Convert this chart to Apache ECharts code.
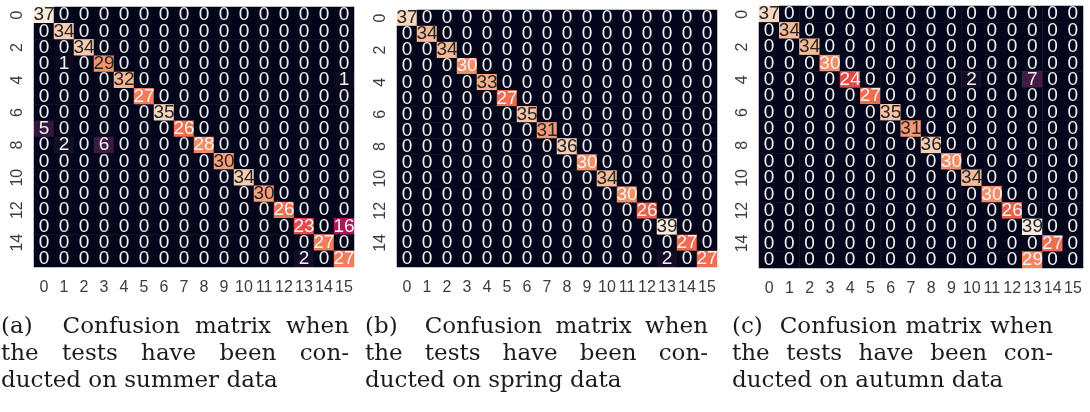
<!DOCTYPE html>
<html>
<head>
<meta charset="utf-8">
<script src="https://cdn.jsdelivr.net/npm/echarts@6/dist/echarts.min.js"></script>
<style>
  html, body { margin: 0; padding: 0; background: #ffffff; }
  #chart { width: 1090px; height: 412px; }
</style>
</head>
<body>
<div id="chart"></div>
<script>
// Class indices shown on both axes
const classLabels = ['0','1','2','3','4','5','6','7','8','9','10','11','12','13','14','15'];

// Confusion matrix, rows = true class, columns = predicted class (summer test set)
const summerMatrix = [
  [37, 0, 0, 0, 0, 0, 0, 0, 0, 0, 0, 0, 0, 0, 0, 0],
  [ 0,34, 0, 0, 0, 0, 0, 0, 0, 0, 0, 0, 0, 0, 0, 0],
  [ 0, 0,34, 0, 0, 0, 0, 0, 0, 0, 0, 0, 0, 0, 0, 0],
  [ 0, 1, 0,29, 0, 0, 0, 0, 0, 0, 0, 0, 0, 0, 0, 0],
  [ 0, 0, 0, 0,32, 0, 0, 0, 0, 0, 0, 0, 0, 0, 0, 1],
  [ 0, 0, 0, 0, 0,27, 0, 0, 0, 0, 0, 0, 0, 0, 0, 0],
  [ 0, 0, 0, 0, 0, 0,35, 0, 0, 0, 0, 0, 0, 0, 0, 0],
  [ 5, 0, 0, 0, 0, 0, 0,26, 0, 0, 0, 0, 0, 0, 0, 0],
  [ 0, 2, 0, 6, 0, 0, 0, 0,28, 0, 0, 0, 0, 0, 0, 0],
  [ 0, 0, 0, 0, 0, 0, 0, 0, 0,30, 0, 0, 0, 0, 0, 0],
  [ 0, 0, 0, 0, 0, 0, 0, 0, 0, 0,34, 0, 0, 0, 0, 0],
  [ 0, 0, 0, 0, 0, 0, 0, 0, 0, 0, 0,30, 0, 0, 0, 0],
  [ 0, 0, 0, 0, 0, 0, 0, 0, 0, 0, 0, 0,26, 0, 0, 0],
  [ 0, 0, 0, 0, 0, 0, 0, 0, 0, 0, 0, 0, 0,23, 0,16],
  [ 0, 0, 0, 0, 0, 0, 0, 0, 0, 0, 0, 0, 0, 0,27, 0],
  [ 0, 0, 0, 0, 0, 0, 0, 0, 0, 0, 0, 0, 0, 2, 0,27]
];

// Spring test set
const springMatrix = [
  [37, 0, 0, 0, 0, 0, 0, 0, 0, 0, 0, 0, 0, 0, 0, 0],
  [ 0,34, 0, 0, 0, 0, 0, 0, 0, 0, 0, 0, 0, 0, 0, 0],
  [ 0, 0,34, 0, 0, 0, 0, 0, 0, 0, 0, 0, 0, 0, 0, 0],
  [ 0, 0, 0,30, 0, 0, 0, 0, 0, 0, 0, 0, 0, 0, 0, 0],
  [ 0, 0, 0, 0,33, 0, 0, 0, 0, 0, 0, 0, 0, 0, 0, 0],
  [ 0, 0, 0, 0, 0,27, 0, 0, 0, 0, 0, 0, 0, 0, 0, 0],
  [ 0, 0, 0, 0, 0, 0,35, 0, 0, 0, 0, 0, 0, 0, 0, 0],
  [ 0, 0, 0, 0, 0, 0, 0,31, 0, 0, 0, 0, 0, 0, 0, 0],
  [ 0, 0, 0, 0, 0, 0, 0, 0,36, 0, 0, 0, 0, 0, 0, 0],
  [ 0, 0, 0, 0, 0, 0, 0, 0, 0,30, 0, 0, 0, 0, 0, 0],
  [ 0, 0, 0, 0, 0, 0, 0, 0, 0, 0,34, 0, 0, 0, 0, 0],
  [ 0, 0, 0, 0, 0, 0, 0, 0, 0, 0, 0,30, 0, 0, 0, 0],
  [ 0, 0, 0, 0, 0, 0, 0, 0, 0, 0, 0, 0,26, 0, 0, 0],
  [ 0, 0, 0, 0, 0, 0, 0, 0, 0, 0, 0, 0, 0,39, 0, 0],
  [ 0, 0, 0, 0, 0, 0, 0, 0, 0, 0, 0, 0, 0, 0,27, 0],
  [ 0, 0, 0, 0, 0, 0, 0, 0, 0, 0, 0, 0, 0, 2, 0,27]
];

// Autumn test set
const autumnMatrix = [
  [37, 0, 0, 0, 0, 0, 0, 0, 0, 0, 0, 0, 0, 0, 0, 0],
  [ 0,34, 0, 0, 0, 0, 0, 0, 0, 0, 0, 0, 0, 0, 0, 0],
  [ 0, 0,34, 0, 0, 0, 0, 0, 0, 0, 0, 0, 0, 0, 0, 0],
  [ 0, 0, 0,30, 0, 0, 0, 0, 0, 0, 0, 0, 0, 0, 0, 0],
  [ 0, 0, 0, 0,24, 0, 0, 0, 0, 0, 2, 0, 0, 7, 0, 0],
  [ 0, 0, 0, 0, 0,27, 0, 0, 0, 0, 0, 0, 0, 0, 0, 0],
  [ 0, 0, 0, 0, 0, 0,35, 0, 0, 0, 0, 0, 0, 0, 0, 0],
  [ 0, 0, 0, 0, 0, 0, 0,31, 0, 0, 0, 0, 0, 0, 0, 0],
  [ 0, 0, 0, 0, 0, 0, 0, 0,36, 0, 0, 0, 0, 0, 0, 0],
  [ 0, 0, 0, 0, 0, 0, 0, 0, 0,30, 0, 0, 0, 0, 0, 0],
  [ 0, 0, 0, 0, 0, 0, 0, 0, 0, 0,34, 0, 0, 0, 0, 0],
  [ 0, 0, 0, 0, 0, 0, 0, 0, 0, 0, 0,30, 0, 0, 0, 0],
  [ 0, 0, 0, 0, 0, 0, 0, 0, 0, 0, 0, 0,26, 0, 0, 0],
  [ 0, 0, 0, 0, 0, 0, 0, 0, 0, 0, 0, 0, 0,39, 0, 0],
  [ 0, 0, 0, 0, 0, 0, 0, 0, 0, 0, 0, 0, 0, 0,27, 0],
  [ 0, 0, 0, 0, 0, 0, 0, 0, 0, 0, 0, 0, 0,29, 0, 0]
];

// Sub-figure captions
const captionTags = ['(a)', '(b)', '(c)'];
const captionSeasons = ['summer', 'spring', 'autumn'];

// "rocket" sequential colormap stops
const rocket = ['#03051a', '#35193e', '#701f57', '#ad1759', '#e13342', '#f37651', '#f6b48f', '#faebdd'];

// Panel geometry: heatmap box and caption column for each sub-figure
const panels = [
  { grid: { left: 34,  top: 7,  width: 320, height: 260 }, cap: [1, 349] },
  { grid: { left: 397, top: 10, width: 320, height: 257 }, cap: [365, 708] },
  { grid: { left: 759, top: 6,  width: 324, height: 262 }, cap: [732, 1053] }
];

const matrices = [summerMatrix, springMatrix, autumnMatrix];
const cellFont = "'Liberation Sans'";
const tickColor = '#3c3c3c';
const cellSize = 19;

function toCells(m) {
  const out = [];
  m.forEach((row, r) => row.forEach((v, c) => out.push([c, r, v])));
  return out;
}

const grids = [], xAxes = [], yAxes = [], series = [], visualMaps = [];
matrices.forEach((m, i) => {
  const vmax = Math.max.apply(null, m.map(r => Math.max.apply(null, r)));
  grids.push(Object.assign({ containLabel: false }, panels[i].grid));
  xAxes.push({
    type: 'category', gridIndex: i, data: classLabels,
    axisLine: { show: false }, axisTick: { show: false }, splitLine: { show: false },
    axisLabel: { interval: 0, fontSize: 16, color: tickColor, fontFamily: cellFont, margin: 13 }
  });
  yAxes.push({
    type: 'category', gridIndex: i, data: classLabels, inverse: true,
    axisLine: { show: false }, axisTick: { show: false }, splitLine: { show: false },
    axisLabel: { interval: 1, rotate: 90, fontSize: 16, color: tickColor, fontFamily: cellFont, margin: 8 }
  });
  visualMaps.push({
    type: 'continuous', show: false, min: 0, max: vmax, dimension: 2,
    seriesIndex: i, inRange: { color: rocket }
  });
  series.push({
    type: 'heatmap', xAxisIndex: i, yAxisIndex: i, data: toCells(m),
    itemStyle: { borderWidth: 0 },
    emphasis: { disabled: true },
    label: {
      show: true,
      fontSize: cellSize,
      fontFamily: cellFont,
      formatter: p => {
        const v = p.value[2];
        return (v / vmax >= 0.775 ? '{d|' : '{w|') + v + '}';
      },
      rich: {
        w: { color: '#f2f2f2', fontSize: cellSize, fontFamily: cellFont },
        d: { color: '#262626', fontSize: cellSize, fontFamily: cellFont }
      }
    }
  });
});

// Justified caption lines, laid out from measured word widths
const capFamily = 'DejaVu Serif';
const capSize = 23;
const capFont = capSize + 'px "' + capFamily + '"';
const measureCtx = document.createElement('canvas').getContext('2d');
measureCtx.font = capFont;
const wWidth = s => measureCtx.measureText(s).width;

function textEl(s, x, y) {
  return {
    type: 'text', x: x, y: y, silent: true,
    style: { text: s, fill: '#1b1b1b', font: capFont, fontFamily: capFamily, fontSize: capSize,
             textAlign: 'left', textVerticalAlign: 'middle', verticalAlign: 'middle' }
  };
}

function justified(words, gapWeights, x0, x1, y) {
  const widths = words.map(wWidth);
  const free = (x1 - x0) - widths.reduce((a, b) => a + b, 0);
  const wsum = gapWeights.reduce((a, b) => a + b, 0);
  const els = [];
  let x = x0;
  words.forEach((w, k) => {
    els.push(textEl(w, x, y));
    x += widths[k] + (k < gapWeights.length ? free * gapWeights[k] / wsum : 0);
  });
  return els;
}

const lineY = [327, 354, 381];
const graphics = [];
panels.forEach((p, i) => {
  const [x0, x1] = p.cap;
  justified([captionTags[i], 'Confusion', 'matrix', 'when'], [2, 1, 1], x0, x1, lineY[0])
    .forEach(e => graphics.push(e));
  justified(['the', 'tests', 'have', 'been', 'con-'], [1, 1, 1, 1], x0, x1, lineY[1])
    .forEach(e => graphics.push(e));
  graphics.push(textEl('ducted on ' + captionSeasons[i] + ' data', x0, lineY[2]));
});

const chart = echarts.init(document.getElementById('chart'), null, { renderer: 'canvas' });
chart.setOption({
  backgroundColor: '#ffffff',
  animation: false,
  grid: grids,
  xAxis: xAxes,
  yAxis: yAxes,
  visualMap: visualMaps,
  series: series,
  graphic: graphics
});
</script>
</body>
</html>
